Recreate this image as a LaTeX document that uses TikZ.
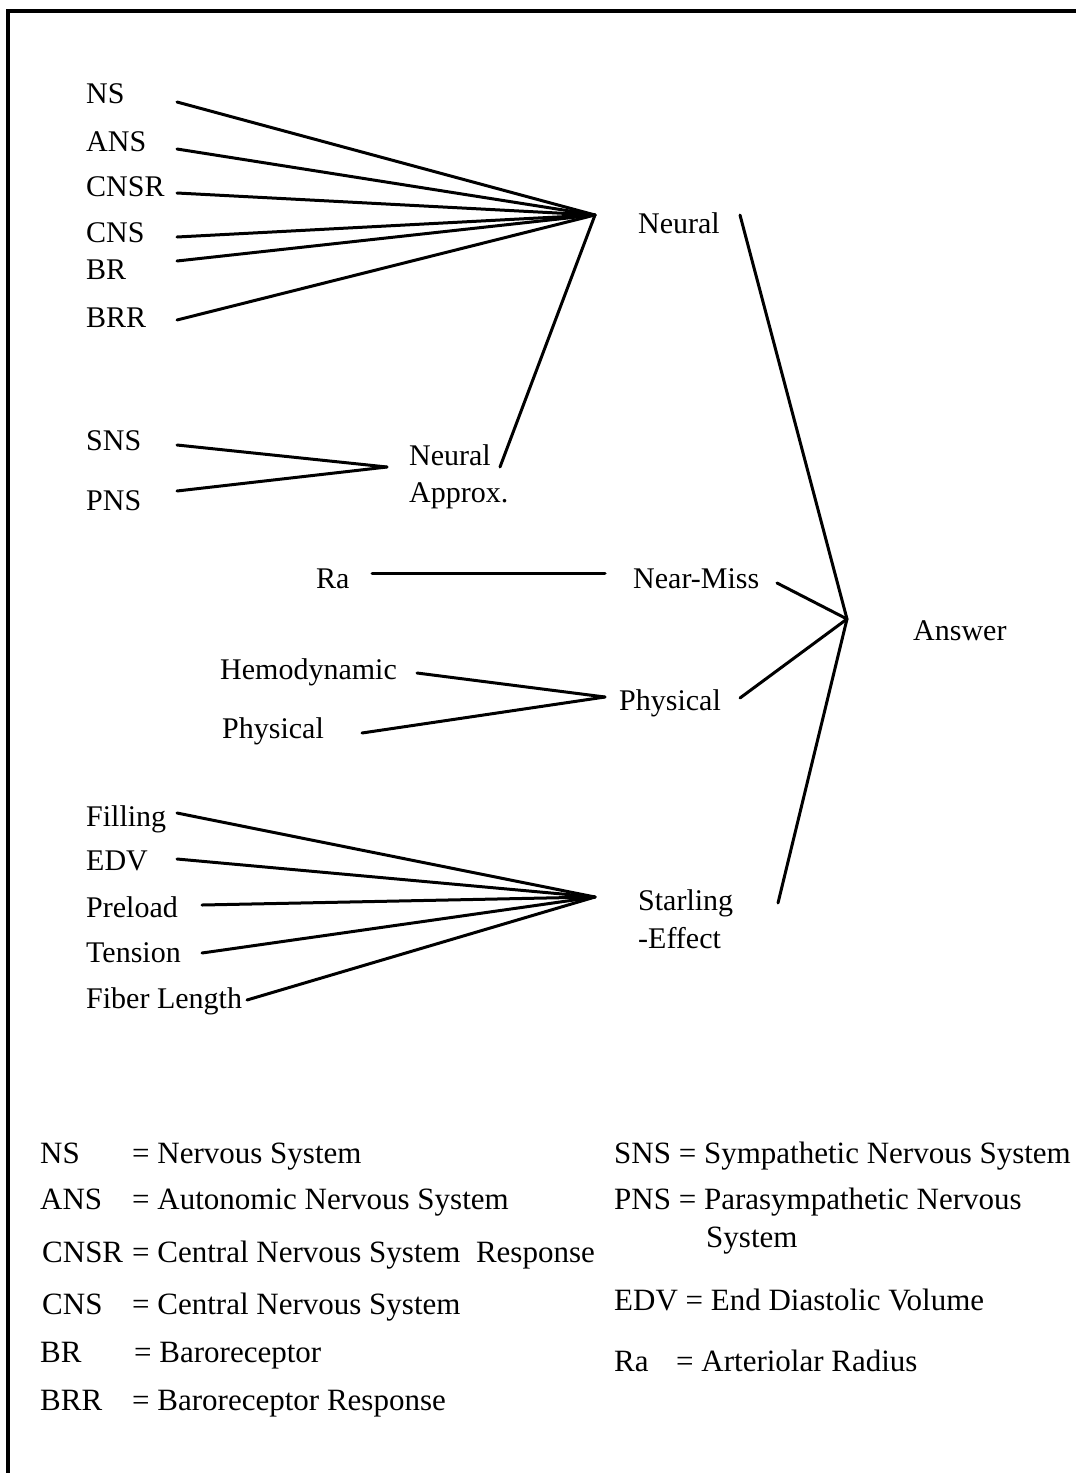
\documentclass[tikz,border=0pt]{standalone}
\usepackage{fontspec}
\setmainfont{Liberation Serif}

\begin{document}
\begin{tikzpicture}[x=1pt, y=-1pt, line join=round, line cap=round,
  font=\fontsize{30}{36}\selectfont,
  lbl/.style={anchor=base west, inner sep=0pt},
  key/.style={lbl, font=\fontsize{31}{36}\selectfont},
  link/.style={line width=3pt}]
\useasboundingbox (0,0) rectangle (1076,1473);
% frame, cut at right and bottom
\draw[line width=4pt, line join=miter, line cap=butt] (8,1490) -- (8,10.7) -- (1090,10.7);
% junction points
\coordinate (hubN) at (595,215);
\coordinate (hubA) at (387,467);
\coordinate (hubP) at (605,697);
\coordinate (hubS) at (595,897);
\coordinate (hubR) at (847,619);
% neural terms
\node[lbl] (ns) at (86,103) {NS};
\node[lbl] (ans) at (86,151) {ANS};
\node[lbl] (cnsr) at (86,196) {CNSR};
\node[lbl] (cns) at (86,242) {CNS};
\node[lbl] (br) at (86,279) {BR};
\node[lbl] (brr) at (86,327) {BRR};
\coordinate (ns-e) at (177,102);
\coordinate (ans-e) at (177,149);
\coordinate (cnsr-e) at (177,193);
\coordinate (cns-e) at (177,237);
\coordinate (br-e) at (177,261);
\coordinate (brr-e) at (177,320);
\draw[link] (ns-e) -- (hubN);
\draw[link] (ans-e) -- (hubN);
\draw[link] (cnsr-e) -- (hubN);
\draw[link] (cns-e) -- (hubN);
\draw[link] (br-e) -- (hubN);
\draw[link] (brr-e) -- (hubN);
% neural approx.
\node[lbl] (sns) at (86,450) {SNS};
\node[lbl] (pns) at (86,510) {PNS};
\coordinate (sns-e) at (177,445);
\coordinate (pns-e) at (177,491);
\draw[link] (sns-e) -- (hubA);
\draw[link] (pns-e) -- (hubA);
\node[lbl] (approx) at (409,465) {Neural};
\node[lbl] (approx2) at (409,502) {Approx.};
\coordinate (approx-e) at (500,467);
\draw[link] (approx-e) -- (hubN);
% near-miss
\node[lbl] (ra) at (316,588) {Ra};
\coordinate (ra-e) at (372,573);
\coordinate (miss-w) at (605,573);
\draw[link] (ra-e) -- (miss-w);
% physical
\node[lbl] (hemo) at (220,679) {Hemodynamic};
\node[lbl] (phys) at (222,738) {Physical};
\coordinate (hemo-e) at (417,673);
\coordinate (phys-e) at (362,733);
\draw[link] (hemo-e) -- (hubP);
\draw[link] (phys-e) -- (hubP);
% starling terms
\node[lbl] (fill) at (86,826) {Filling};
\node[lbl] (edv) at (86,870) {EDV};
\node[lbl] (pre) at (86,917) {Preload};
\node[lbl] (tens) at (86,962) {Tension};
\node[lbl] (fib) at (86,1008) {Fiber Length};
\coordinate (fill-e) at (177,813);
\coordinate (edv-e) at (177,859);
\coordinate (pre-e) at (202,905);
\coordinate (tens-e) at (202,953);
\coordinate (fib-e) at (247,1000);
\draw[link] (fill-e) -- (hubS);
\draw[link] (edv-e) -- (hubS);
\draw[link] (pre-e) -- (hubS);
\draw[link] (tens-e) -- (hubS);
\draw[link] (fib-e) -- (hubS);
% categories
\node[lbl] (neural) at (638,233) {Neural};
\node[lbl] (miss) at (633,588) {Near-Miss};
\node[lbl] (physR) at (619,710) {Physical};
\node[lbl] (star) at (638,910) {Starling};
\node[lbl] (star2) at (638,948) {-Effect};
\node[lbl] (answer) at (913,640) {Answer};
\coordinate (neural-e) at (740,215);
\coordinate (miss-e) at (777,583);
\coordinate (physR-e) at (740,698);
\coordinate (star-e) at (778,903);
\draw[link] (neural-e) -- (hubR);
\draw[link] (miss-e) -- (hubR);
\draw[link] (physR-e) -- (hubR);
\draw[link] (star-e) -- (hubR);
% legend, left
\node[key] (k1) at (40,1163) {NS};
\node[key] (k2) at (40,1209) {ANS};
\node[key] (k3) at (42,1262) {CNSR};
\node[key] (k4) at (42,1314) {CNS};
\node[key] (k5) at (40,1362) {BR};
\node[key] (k6) at (40,1410) {BRR};
\node[key] (d1) at (132,1163) {= Nervous System};
\node[key] (d2) at (132,1209) {= Autonomic Nervous System};
\node[key] (d3) at (132,1262) {= Central Nervous System\ \ Response};
\node[key] (d4) at (132,1314) {= Central Nervous System};
\node[key] (d5) at (134,1362) {= Baroreceptor};
\node[key] (d6) at (132,1410) {= Baroreceptor Response};
% legend, right
\node[key] (k7) at (614,1163) {SNS = Sympathetic Nervous System};
\node[key] (k8) at (614,1209) {PNS = Parasympathetic Nervous};
\node[key] (k8b) at (706,1247) {System};
\node[key] (k9) at (614,1310) {EDV = End Diastolic Volume};
\node[key] (k10) at (614,1371) {Ra};
\node[key] (d10) at (676,1371) {= Arteriolar Radius};
\end{tikzpicture}
\end{document}
